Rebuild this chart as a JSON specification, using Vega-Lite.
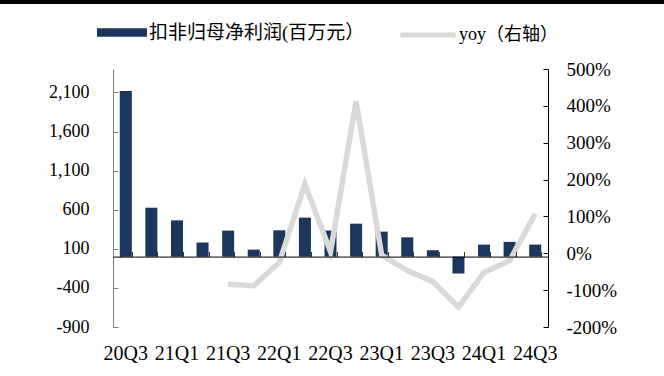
{
  "$schema": "https://vega.github.io/schema/vega-lite/v6.json",
  "padding": 0,
  "background": "white",
  "bounds": "flush",
  "spacing": 65,
  "config": {"view": {"stroke": null}, "font": "Liberation Serif"},
  "datasets": {
    "quarters": [
      {"q": "20Q3", "profit": 2120, "yoy": null},
      {"q": "20Q4", "profit": 626, "yoy": null},
      {"q": "21Q1", "profit": 464, "yoy": null},
      {"q": "21Q2", "profit": 180, "yoy": null},
      {"q": "21Q3", "profit": 333, "yoy": -84},
      {"q": "21Q4", "profit": 90, "yoy": -88},
      {"q": "22Q1", "profit": 337, "yoy": -25},
      {"q": "22Q2", "profit": 499, "yoy": 188},
      {"q": "22Q3", "profit": 333, "yoy": 4},
      {"q": "22Q4", "profit": 422, "yoy": 412},
      {"q": "23Q1", "profit": 320, "yoy": -5},
      {"q": "23Q2", "profit": 247, "yoy": -47},
      {"q": "23Q3", "profit": 82, "yoy": -77},
      {"q": "23Q4", "profit": -216, "yoy": -146},
      {"q": "24Q1", "profit": 154, "yoy": -52},
      {"q": "24Q2", "profit": 189, "yoy": -20},
      {"q": "24Q3", "profit": 154, "yoy": 107}
    ]
  },
  "vconcat": [
    {
      "width": 664,
      "height": 4,
      "data": {"values": []},
      "mark": "point",
      "view": {"fill": "black", "stroke": null}
    },
    {
      "spacing": 0,
      "bounds": "flush",
      "hconcat": [
        {
          "width": 113,
          "height": 258,
          "data": {"values": []},
          "mark": "point"
        },
        {
          "width": 435,
          "height": 258,
          "data": {"name": "quarters"},
          "layer": [
            {
              "mark": {"type": "bar"},
              "encoding": {
                "x": {
                  "field": "q",
                  "type": "ordinal",
                  "sort": null,
                  "scale": {"paddingInner": 0.53, "paddingOuter": 0.265},
                  "axis": {
                    "orient": "bottom",
                    "title": null,
                    "domain": false,
                    "ticks": false,
                    "values": ["20Q3", "21Q1", "21Q3", "22Q1", "22Q3", "23Q1", "23Q3", "24Q1", "24Q3"],
                    "labelAngle": 0,
                    "labelFont": "Liberation Serif",
                    "labelFontSize": 20,
                    "labelColor": "#000000",
                    "labelPadding": 16,
                    "labelOverlap": false
                  }
                },
                "y": {
                  "field": "profit",
                  "type": "quantitative",
                  "scale": {"domain": [-900, 2400], "nice": false, "zero": false},
                  "axis": {
                    "orient": "left",
                    "title": null,
                    "grid": false,
                    "values": [-900, -400, 100, 600, 1100, 1600, 2100],
                    "labelExpr": "(datum.value < 0 ? '-' : '') + format(abs(datum.value), ',')",
                    "domainColor": "#7f7f7f",
                    "tickColor": "#7f7f7f",
                    "tickSize": -5,
                    "labelPadding": 29,
                    "labelFont": "Liberation Serif",
                    "labelFontSize": 18,
                    "labelColor": "#000000"
                  }
                },
                "fill": {
                  "datum": "扣非归母净利润(百万元）",
                  "type": "nominal",
                  "scale": {"range": ["#1B375E"]},
                  "legend": {
                    "orient": "none",
                    "legendX": 97,
                    "legendY": 7.5,
                    "title": null,
                    "padding": 0,
                    "symbolType": "M-1,-0.17H1V0.17H-1Z",
                    "symbolSize": 2500,
                    "symbolStrokeWidth": 0,
                    "labelOffset": 2,
                    "labelLimit": 0,
                    "labelFont": "Liberation Serif, Noto Sans CJK SC",
                    "labelFontSize": 19,
                    "labelColor": "#000000"
                  }
                }
              }
            },
            {
              "mark": {"type": "line", "strokeWidth": 5.5},
              "encoding": {
                "x": {
                  "field": "q",
                  "type": "ordinal",
                  "sort": null,
                  "axis": {
                    "orient": "top",
                    "offset": -187.6,
                    "title": null,
                    "labels": false,
                    "ticks": true,
                    "tickBand": "extent",
                    "tickSize": 5,
                    "tickColor": "#333333",
                    "domain": true,
                    "domainColor": "#000000",
                    "domainWidth": 1,
                    "zindex": 1
                  }
                },
                "y": {
                  "field": "yoy",
                  "type": "quantitative",
                  "scale": {"domain": [-200, 500], "nice": false, "zero": false},
                  "axis": {
                    "orient": "right",
                    "title": null,
                    "grid": false,
                    "values": [-200, -100, 0, 100, 200, 300, 400, 500],
                    "labelExpr": "datum.value + '%'",
                    "domainColor": "#000000",
                    "tickColor": "#000000",
                    "tickSize": -5,
                    "labelPadding": 23,
                    "labelFont": "Liberation Serif",
                    "labelFontSize": 19,
                    "labelColor": "#000000"
                  }
                },
                "stroke": {
                  "datum": "yoy（右轴）",
                  "type": "nominal",
                  "scale": {"range": ["#D9D9D9"]},
                  "legend": {
                    "orient": "none",
                    "legendX": 398,
                    "legendY": 5,
                    "title": null,
                    "padding": 0,
                    "symbolType": "stroke",
                    "symbolSize": 3025,
                    "symbolStrokeWidth": 5,
                    "labelOffset": 1,
                    "labelLimit": 0,
                    "labelFont": "Liberation Serif, Noto Sans CJK SC",
                    "labelFontSize": 18,
                    "labelColor": "#000000"
                  }
                }
              }
            }
          ],
          "resolve": {"scale": {"y": "independent"}, "axis": {"x": "independent"}}
        }
      ]
    }
  ]
}
